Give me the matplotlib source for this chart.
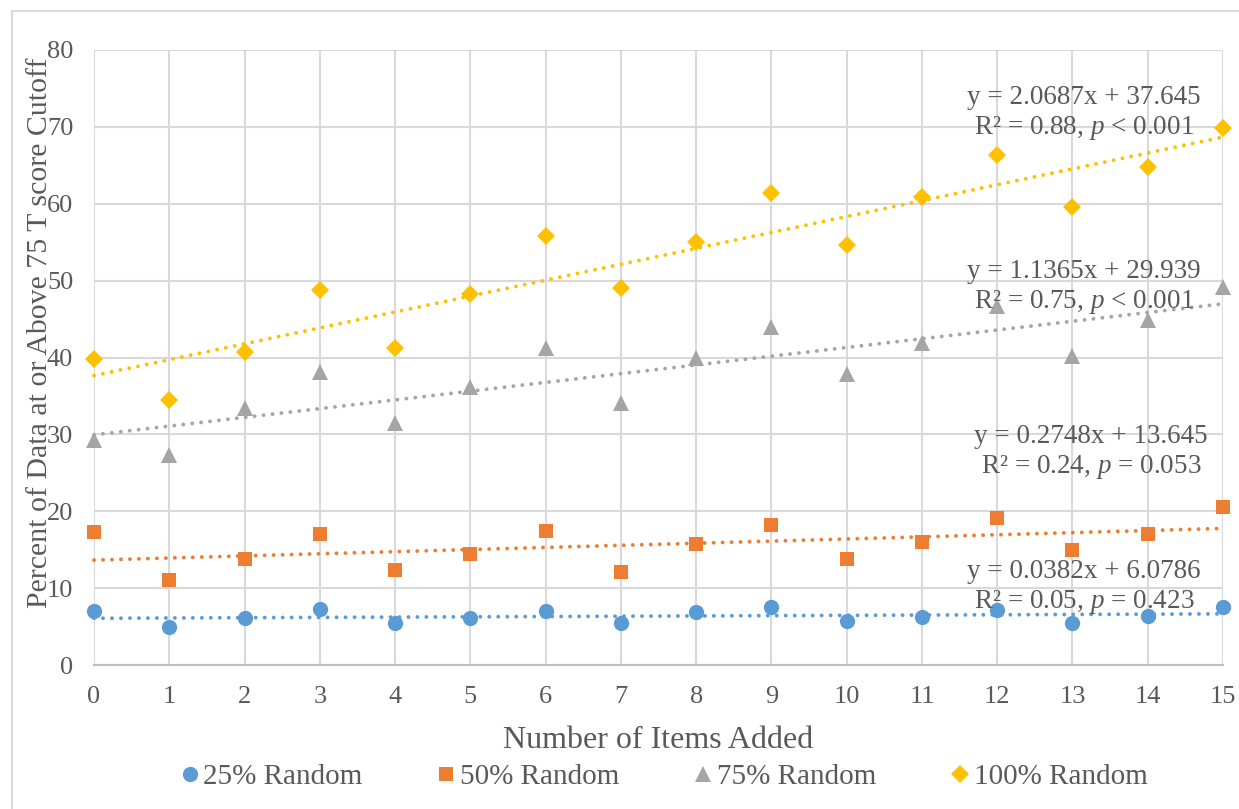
import numpy as np
import matplotlib
matplotlib.use("Agg")
import matplotlib.pyplot as plt
from matplotlib.patches import Rectangle

plt.rcParams['font.family'] = ['Liberation Serif', 'DejaVu Serif']
plt.rcParams['mathtext.fontset'] = 'custom'
plt.rcParams['mathtext.rm'] = 'Liberation Serif'
plt.rcParams['mathtext.it'] = 'Liberation Serif:italic'

items_added = np.arange(16)

pct_25 = [7.06, 4.9, 6.07, 7.28, 5.42, 6.15, 7.06, 5.42, 6.85, 7.58, 5.72, 6.28, 7.15, 5.5, 6.37, 7.58]
pct_50 = [17.3, 11.05, 13.8, 17.0, 12.35, 14.5, 17.4, 12.05, 15.7, 18.2, 13.8, 15.95, 19.15, 14.9, 17.1, 20.6]
pct_75 = [29.3, 27.3, 33.4, 38.1, 31.5, 36.2, 41.2, 34.1, 39.9, 44.0, 37.8, 41.9, 46.7, 40.2, 44.9, 49.2]
pct_100 = [39.8, 34.5, 40.7, 48.8, 41.2, 48.2, 55.8, 49.0, 55.0, 61.4, 54.6, 60.9, 66.4, 59.6, 64.8, 69.8]

series_labels = ['25% Random', '50% Random', '75% Random', '100% Random']
slopes = [0.0382, 0.2748, 1.1365, 2.0687]
intercepts = [6.0786, 13.645, 29.939, 37.645]
fit_stats = ['R\u00b2 = 0.05, $p$ = 0.423',
             'R\u00b2 = 0.24, $p$ = 0.053',
             'R\u00b2 = 0.75, $p$ < 0.001',
             'R\u00b2 = 0.88, $p$ < 0.001']

colors = ['#5B9BD5', '#ED7D31', '#A5A5A5', '#FFC000']
markers = ['o', 's', '^', 'D']
msizes = [11, 10, 11.5, 9.5]
# where each equation block sits (data coords)
eq_pos = [(13.15, 10.1), (13.25, 27.6), (13.15, 49.1), (13.15, 71.8)]

fig = plt.figure(figsize=(12.39, 8.09), dpi=100)
fig.patches.append(Rectangle((12 / 1239, -0.1), 1.2, 1 - 11 / 809 + 0.1,
                             transform=fig.transFigure, fill=False,
                             edgecolor='#d9d9d9', linewidth=1.5))
ax = fig.add_axes([94 / 1239, 1 - 665 / 809, (1223 - 94) / 1239, (665 - 50) / 809])

all_y = [pct_25, pct_50, pct_75, pct_100]
handles = []
for y, lab, c, m, ms, a, b, st, pos in zip(all_y, series_labels, colors, markers, msizes,
                                           slopes, intercepts, fit_stats, eq_pos):
    h, = ax.plot(items_added, y, linestyle='none', marker=m, markersize=ms,
                 color=c, markeredgewidth=0, label=lab, zorder=3, clip_on=False)
    handles.append(h)
    xx = np.array([0, 15])
    ax.plot(xx, a * xx + b, color=c, linewidth=2.8,
            linestyle=(0, (0.01, 2.3)), dash_capstyle='round', zorder=2, clip_on=False)
    ax.text(pos[0], pos[1], 'y = %sx + %s\n%s' % (a, b, st), ha='center', va='center',
            fontsize=19.5, color='#595959', linespacing=1.2, zorder=4)

ax.set_xlim(0, 15)
ax.set_ylim(0, 80)
ax.set_xticks(range(16))
ax.set_yticks(range(0, 81, 10))
ax.grid(True, color='#d9d9d9', linewidth=1.5)
ax.set_axisbelow(True)
for s in ['top', 'right', 'left']:
    ax.spines[s].set_visible(False)
ax.spines['bottom'].set_color('#bfbfbf')
ax.spines['bottom'].set_linewidth(1.5)
ax.tick_params(length=0, labelsize=19, labelcolor='#595959')
ax.tick_params(axis='y', pad=15)
ax.tick_params(axis='x', pad=15)

ax.set_xlabel('Number of Items Added', fontsize=23, color='#595959', labelpad=13)
fig.text(40 / 1239, 1 - 333 / 809, 'Percent of Data at or Above 75 T score Cutoff',
         rotation=90, ha='center', va='center', fontsize=21.5, color='#595959')

fig.legend(handles=handles, loc='center', bbox_to_anchor=(664 / 1239, 1 - 777 / 809),
           ncol=4, frameon=False, fontsize=21, labelcolor='#595959',
           handletextpad=0.15, columnspacing=2.6, handlelength=0.6)

fig.savefig('out.png', dpi=100)
